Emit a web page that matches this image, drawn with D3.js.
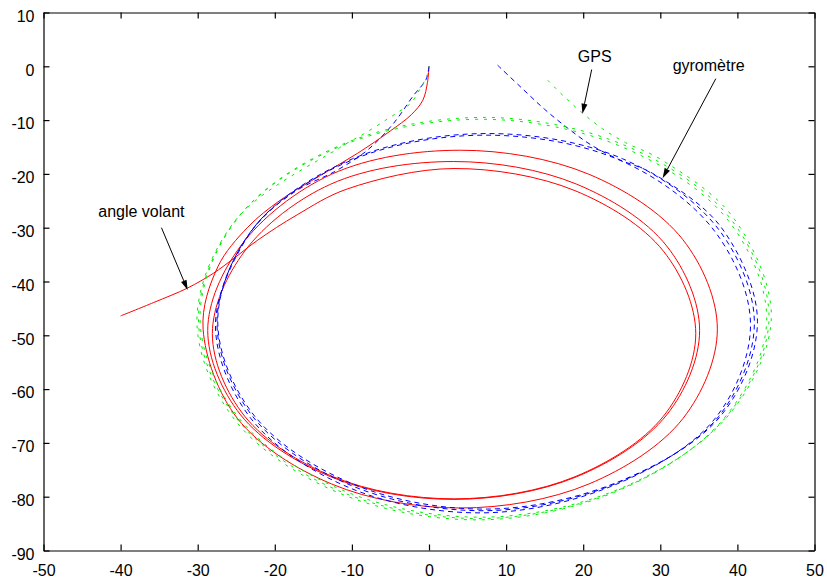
<!DOCTYPE html>
<html><head><meta charset="utf-8">
<script src="https://cdn.jsdelivr.net/npm/d3@7"></script>
<style>
body{margin:0;background:#fff}
svg text{font-family:"Liberation Sans",Arial,Helvetica,sans-serif;font-size:16px;fill:#000}
</style>
</head><body>
<svg id="c" width="827" height="579"></svg>
<script>
const xTicks = [-50,-40,-30,-20,-10,0,10,20,30,40,50];
const yTicks = [-90,-80,-70,-60,-50,-40,-30,-20,-10,0,10];

// "angle volant" trajectory (red)
const redPath = [
  [-40,-46.4],[-35.7,-43.9],[-31.3,-41.2],[-28,-38.5],[-25.4,-35.8],[-22.2,-32.3],[-17.1,-27.6],[-10.6,-22.8],
  [3.25,-19.0],[18.93,-23.11],[30.4,-34.35],[34.6,-49.7],[30.4,-65.05],[18.93,-76.29],
  [3.25,-80.4],[-12.43,-76.29],[-23.9,-65.05],[-28.1,-49.7],[-23.9,-34.35],
  [-12.75,-21.91],[3.2,-17.7],[19.15,-21.91],[30.83,-33.4],[35.1,-49.1],[30.83,-64.8],[19.15,-76.29],
  [3.2,-80.5],[-12.75,-76.29],[-24.43,-64.8],[-28.7,-49.1],[-24.43,-33.4],
  [-12.63,-20.06],[4.05,-15.6],[20.73,-20.06],[32.93,-32.22],[37.4,-48.85],[32.93,-65.48],[20.73,-77.64],
  [4.05,-82.1],[-12.63,-77.64],[-24.83,-65.48],[-29.3,-48.85],
  [-27.4,-37.3],[-23.5,-29.9],[-19.3,-24.9],[-14.1,-20.3],[-9.3,-16.2],[-5,-12],[-2.3,-9],[-0.8,-6.3],[-0.2,-3],[0,0]
];

// "gyromètre" trajectory (blue)
const bluePath = [
  [8.9,0.2],[12,-4],[15,-8],[18,-11.5],[21,-14.6],[24.6,-17.3],[29,-19.9],
  [37.91,-29.95],[42.6,-47.4],[37.91,-64.85],[24.8,-77.1],[7.6,-82.3],[-9.9,-77.62],
  [-22.71,-64.85],[-27.4,-47.4],[-22.71,-29.95],[-9.9,-17.18],[7.6,-12.5],[25.1,-17.18],
  [37.53,-30.25],[42.2,-47.7],[37.53,-65.15],[24.5,-77.4],[7.35,-82.6],[-10.08,-77.92],
  [-22.83,-65.15],[-27.5,-47.7],[-22.83,-30.25],[-10.08,-17.48],[7.35,-12.8],[24.78,-17.48],
  [37.05,-30.65],[41.7,-48.1],[37.05,-65.55],[24.1,-77.8],[7.0,-83.0],[-10.35,-78.32],
  [-23.05,-65.55],[-27.7,-48.1],[-23.05,-30.65],[-17.53,-23.43],
  [-11.9,-19.3],[-8,-15.6],[-4.6,-10.6],[-2,-5.4],[-0.4,-2.5],[0,0]
];

// "GPS" trajectory (green)
const greenPath = [
  [15.4,-2.6],[17.5,-5.6],[20,-8.8],[22.5,-11.6],[25.5,-14.2],[30,-17.25],
  [39.44,-28.07],[44.4,-46.65],[39.0,-64.6],[25.6,-78.0],[7.35,-83.8],[-11.18,-78.82],
  [-24.74,-65.23],[-29.7,-46.65],[-24.74,-28.07],[-11.18,-14.48],[7.35,-9.5],
  [25.6,-14.82],[39.14,-28.4],[44.1,-46.95],[38.7,-64.9],[25.3,-78.3],[7.1,-84.05],[-11.4,-79.08],
  [-24.94,-65.5],[-29.9,-46.95],[-24.94,-28.4],[-11.4,-14.82],[7.1,-9.85],
  [25.33,-15.16],[38.85,-28.72],[43.8,-47.25],[38.4,-65.2],[25.0,-78.6],[6.85,-84.3],[-11.63,-79.34],
  [-25.15,-65.78],[-30.1,-47.25],[-25.15,-28.72],[-11.63,-15.16],
  [-8.5,-12.6],[-5.6,-10],[-4.1,-8.6],[-2.4,-6.9],[-1.2,-4.3],[-0.2,-1.5],[0,0]
];

const labelTexts = ["GPS","gyromètre","angle volant"];
const labelPos = [[19.3,0.75],[31.6,-0.8],[-42.9,-28.1]];
const arrowFrom = [[21.1,-0.6],[37.2,-2.3],[-34.7,-30.0]];
const arrowTo = [[19.9,-8.8],[30.3,-20.8],[-31.3,-41.6]];

const svg = d3.select("#c");
const x = d3.scaleLinear().domain([-50,50]).range([43.5,814.5]);
const y = d3.scaleLinear().domain([-90,10]).range([550.5,12.5]);

const line = d3.line().x(d=>x(d[0])).y(d=>y(d[1])).curve(d3.curveCatmullRom.alpha(0.5));

const plot = svg.append("g");
plot.append("path").datum(redPath).attr("d",line)
  .attr("fill","none").attr("stroke","#ff0000").attr("stroke-width",1);
plot.append("path").datum(bluePath).attr("d",line)
  .attr("fill","none").attr("stroke","#0000ff").attr("stroke-width",1).attr("stroke-dasharray","5,4");
plot.append("path").datum(greenPath).attr("d",line)
  .attr("fill","none").attr("stroke","#00ee00").attr("stroke-width",1).attr("stroke-dasharray","3,6");

// axes
const fmt = d => String(d);
const gL = svg.append("g").attr("transform",`translate(${x.range()[0]},0)`)
  .call(d3.axisLeft(y).tickValues(yTicks).tickSizeInner(-6).tickSizeOuter(0).tickPadding(9).tickFormat(fmt));
gL.selectAll("text").attr("dy","0.55em");
svg.append("g").attr("transform",`translate(0,${y.range()[0]})`)
  .call(d3.axisBottom(x).tickValues(xTicks).tickSizeInner(-6).tickSizeOuter(0).tickPadding(14).tickFormat(fmt));
svg.append("g").attr("transform",`translate(${x.range()[1]},0)`)
  .call(d3.axisRight(y).tickValues(yTicks).tickSizeInner(-6).tickSizeOuter(0).tickFormat(""));
svg.append("g").attr("transform",`translate(0,${y.range()[1]})`)
  .call(d3.axisTop(x).tickValues(xTicks).tickSizeInner(-6).tickSizeOuter(0).tickFormat(""));
svg.selectAll(".domain").attr("stroke","#000").attr("stroke-width",1.2);
svg.selectAll(".tick line").attr("stroke","#000").attr("stroke-width",1.2);
svg.selectAll(".tick text").attr("font-size",16).attr("font-family","Liberation Sans, Arial, sans-serif").attr("fill","#000");

// labels
labelTexts.forEach((t,i)=>{
  svg.append("text").attr("x",x(labelPos[i][0])).attr("y",y(labelPos[i][1])).text(t);
});
// arrows
arrowFrom.forEach((f,i)=>{
  const x0=x(f[0]), y0=y(f[1]), x1=x(arrowTo[i][0]), y1=y(arrowTo[i][1]);
  const ang=Math.atan2(y1-y0,x1-x0), L=10, W=3;
  const bx=x1-L*Math.cos(ang), by=y1-L*Math.sin(ang);
  svg.append("line").attr("x1",x0).attr("y1",y0).attr("x2",bx).attr("y2",by).attr("stroke","#000").attr("stroke-width",1);
  const pts=[[x1,y1],[bx+W*Math.sin(ang),by-W*Math.cos(ang)],[bx-W*Math.sin(ang),by+W*Math.cos(ang)]];
  svg.append("polygon").attr("points",pts.map(p=>p.join(",")).join(" ")).attr("fill","#000");
});
</script>
</body></html>
